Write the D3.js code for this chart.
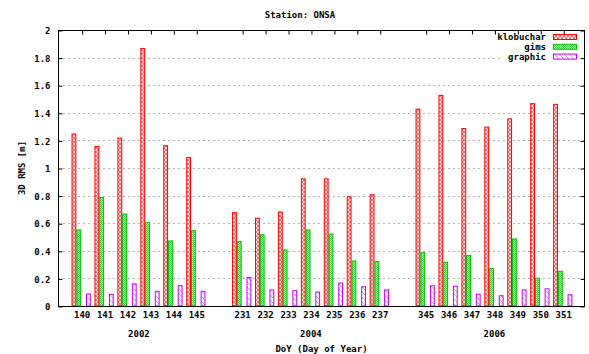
<!DOCTYPE html>
<html>
<head>
<meta charset="utf-8">
<script src="https://cdn.jsdelivr.net/npm/d3@7"></script>
<style>
  html, body { margin: 0; padding: 0; background: #fff; }
  svg { display: block; }
  text { font-family: "DejaVu Sans Mono", "Liberation Mono", monospace; font-weight: bold; font-size: 9px; fill: #000; }
</style>
</head>
<body>
<script>
// Day-of-year categories, grouped by year
const years = ["2002", "2004", "2006"];
const days = [
  ["140", "141", "142", "143", "144", "145"],
  ["231", "232", "233", "234", "235", "236", "237"],
  ["345", "346", "347", "348", "349", "350", "351"]
];
// 3D RMS [m] per day, in the same order as days
const klobuchar = [1.25, 1.16, 1.22, 1.87, 1.165, 1.08,
                   0.68, 0.64, 0.685, 0.925, 0.925, 0.795, 0.81,
                   1.43, 1.53, 1.29, 1.30, 1.36, 1.47, 1.465];
const gims = [0.555, 0.79, 0.67, 0.61, 0.475, 0.55,
              0.47, 0.52, 0.41, 0.555, 0.525, 0.33, 0.325,
              0.39, 0.32, 0.37, 0.275, 0.49, 0.205, 0.255];
const graphic = [0.09, 0.088, 0.164, 0.11, 0.15, 0.11,
                 0.21, 0.12, 0.115, 0.105, 0.17, 0.143, 0.12,
                 0.15, 0.147, 0.089, 0.078, 0.12, 0.128, 0.085];
const yTicks = [0, 0.2, 0.4, 0.6, 0.8, 1, 1.2, 1.4, 1.6, 1.8, 2];

const series = [
  { name: "klobuchar", values: klobuchar, color: "#ff0000", pat: "patX", slot: 0 },
  { name: "gims", values: gims, color: "#00c000", pat: "patDense", slot: 1 },
  { name: "graphic", values: graphic, color: "#c000ff", pat: "patBack", slot: 3 }
];

const W = 589, H = 354;
const m = { left: 58, right: 585, top: 30, bottom: 306 };

// Slot index for each day: one empty slot between year groups
const rows = [];
let slot = 0;
days.forEach((grp, gi) => {
  grp.forEach(d => { rows.push({ day: d, year: years[gi], slot: slot }); slot++; });
  slot++;
});
rows.forEach((r, i) => {
  r.klobuchar = klobuchar[i]; r.gims = gims[i]; r.graphic = graphic[i];
});

const x = d3.scaleLinear().domain([-1.03, 21.95]).range([m.left, m.right]);
const y = d3.scaleLinear().domain([0, 2]).range([m.bottom, m.top]);
const sub = 0.21;         // width of one bar, in slot units
const start = -0.44;      // left edge of the first bar relative to slot centre

const svg = d3.select("body").append("svg").attr("width", W).attr("height", H);

// Fill patterns
const defs = svg.append("defs");
const pX = defs.append("pattern").attr("id", "patX").attr("patternUnits", "userSpaceOnUse")
  .attr("width", 4).attr("height", 4);
pX.append("rect").attr("width", 4).attr("height", 4).attr("fill", "#fff0f0");
pX.append("path").attr("d", "M0,0 L4,4 M4,0 L0,4").attr("stroke", "#ff0000")
  .attr("stroke-width", 1).attr("stroke-opacity", 0.55);
const pD = defs.append("pattern").attr("id", "patDense").attr("patternUnits", "userSpaceOnUse")
  .attr("width", 2).attr("height", 2);
pD.append("rect").attr("width", 2).attr("height", 2).attr("fill", "#c4f0c4");
pD.append("rect").attr("width", 1).attr("height", 1).attr("fill", "#40cc40");
pD.append("rect").attr("x", 1).attr("y", 1).attr("width", 1).attr("height", 1).attr("fill", "#40cc40");
const pB = defs.append("pattern").attr("id", "patBack").attr("patternUnits", "userSpaceOnUse")
  .attr("width", 5).attr("height", 5);
pB.append("path").attr("d", "M-1,-1 L6,6 M-1,4 L1,6 M4,-1 L6,1").attr("stroke", "#c000ff")
  .attr("stroke-width", 0.9).attr("stroke-opacity", 0.5);

// Horizontal grid
svg.append("g").selectAll("line").data(yTicks.filter(t => t > 0 && t < 2)).join("line")
  .attr("x1", m.left).attr("x2", m.right)
  .attr("y1", d => Math.round(y(d)) + 0.5).attr("y2", d => Math.round(y(d)) + 0.5)
  .attr("stroke", "#b4b4b4").attr("stroke-width", 1).attr("stroke-dasharray", "2,3");

// Bars
series.forEach(s => {
  svg.append("g").selectAll("rect").data(rows).join("rect")
    .attr("x", d => x(d.slot + start + s.slot * sub) + 0.5)
    .attr("width", x(sub) - x(0) - 1)
    .attr("y", d => y(d[s.name]) + 0.5)
    .attr("height", d => y(0) - y(d[s.name]) - 0.5)
    .attr("fill", `url(#${s.pat})`)
    .attr("stroke", s.color).attr("stroke-width", 1);
});

// Legend (opaque key)
const lg = svg.append("g");
lg.append("rect").attr("x", 500).attr("y", 31).attr("width", 82).attr("height", 30).attr("fill", "#fff");
series.forEach((s, i) => {
  const cy = 37 + i * 9.8;
  lg.append("text").attr("x", 546).attr("y", cy).attr("dy", "0.35em").attr("text-anchor", "end").text(s.name);
  lg.append("rect").attr("x", 553.5).attr("y", cy - 2.5).attr("width", 23).attr("height", 5)
    .attr("fill", `url(#${s.pat})`).attr("stroke", s.color).attr("stroke-width", 1);
});

// Border box
svg.append("rect").attr("x", m.left + 0.5).attr("y", m.top + 0.5)
  .attr("width", m.right - m.left - 1).attr("height", m.bottom - m.top)
  .attr("fill", "none").attr("stroke", "#000").attr("stroke-width", 1);

// Y axis (left, labels) and mirrored ticks on the right
const yAxis = d3.axisLeft(y).tickValues(yTicks).tickSize(-4).tickPadding(8)
  .tickFormat(d => String(d));
const gy = svg.append("g").attr("transform", `translate(${m.left + 0.5},0.5)`).call(yAxis);
gy.select(".domain").remove();
gy.selectAll("text").style("font-size", "9px").style("font-family", null).attr("dy", "0.35em");
const gyr = svg.append("g").attr("transform", `translate(${m.right - 0.5},0.5)`)
  .call(d3.axisRight(y).tickValues(yTicks).tickSize(-4).tickFormat(""));
gyr.select(".domain").remove();

// X axis: day labels below, mirrored ticks along the top
const xAxis = d3.axisBottom(x).tickValues(rows.map(r => r.slot)).tickSize(0).tickPadding(6)
  .tickFormat((d, i) => rows[i].day);
const gx = svg.append("g").attr("transform", `translate(0,${m.bottom})`).call(xAxis);
gx.select(".domain").remove();
gx.selectAll("text").style("font-size", "9px").style("font-family", null);
const gxt = svg.append("g").attr("transform", `translate(0.5,${m.top + 0.5})`)
  .call(d3.axisTop(x).tickValues(rows.map(r => r.slot)).tickSize(-4).tickFormat(""));
gxt.select(".domain").remove();

// Year labels centred under each group
years.forEach(yr => {
  const g = rows.filter(r => r.year === yr);
  const cx = (x(g[0].slot) + x(g[g.length - 1].slot)) / 2;
  svg.append("text").attr("x", cx).attr("y", 334).attr("dy", "0.35em")
    .attr("text-anchor", "middle").text(yr);
});

// Titles
svg.append("text").attr("x", (m.left + m.right) / 2).attr("y", 349).attr("dy", "0.35em")
  .attr("text-anchor", "middle").text("DoY (Day of Year)");
svg.append("text").attr("x", 300).attr("y", 15).attr("dy", "0.35em")
  .attr("text-anchor", "middle").text("Station: ONSA");
svg.append("text").attr("transform", `translate(22,${(m.top + m.bottom) / 2}) rotate(-90)`)
  .attr("dy", "0.35em").attr("text-anchor", "middle").text("3D RMS [m]");
</script>
</body>
</html>
